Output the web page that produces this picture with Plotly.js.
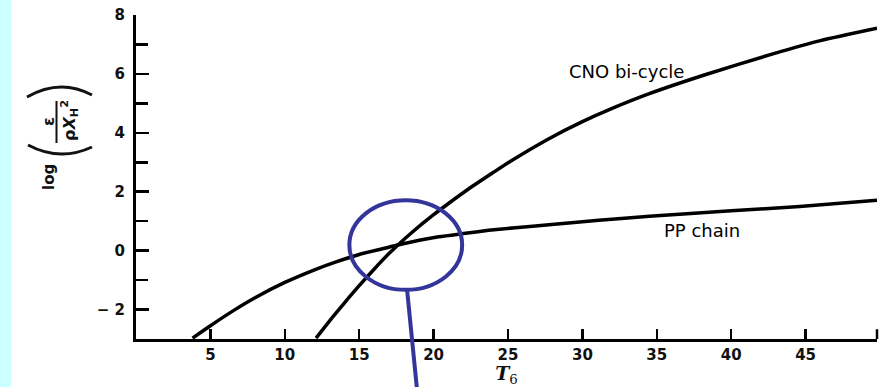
<!DOCTYPE html>
<html>
<head>
<meta charset="utf-8">
<script src="https://cdn.plot.ly/plotly-3.0.1.min.js"></script>
<style>
html,body{margin:0;padding:0;background:#fff;}
#chart{width:892px;height:387px;}
</style>
</head>
<body>
<div id="chart"></div>
<script>
// Temperature T6 (millions of K) and log(eps / rho X_H^2)
var ppT   = [3.8, 5, 6.6, 8, 10, 12, 13.4, 15, 16.7, 17.66, 20.35, 22, 23.7, 25.5, 27.75, 31.1, 34.5, 40, 44.6, 49.8];
var ppLog = [-2.97, -2.55, -2.02, -1.6, -1.08, -0.65, -0.39, -0.13, 0.08, 0.2, 0.47, 0.58, 0.69, 0.78, 0.88, 1.03, 1.17, 1.35, 1.5, 1.71];

var cnoT   = [12.1, 13, 14, 15, 16, 17, 17.66, 18.5, 20, 21, 22.37, 24, 25.06, 27.75, 30, 32, 34.5, 38.3, 42.8, 46, 49.8];
var cnoLog = [-2.97, -2.39, -1.78, -1.19, -0.63, -0.1, 0.22, 0.6, 1.22, 1.6, 2.1, 2.65, 3.0, 3.8, 4.38, 4.83, 5.33, 5.98, 6.68, 7.13, 7.55];

var xTickVals = [5, 10, 15, 20, 25, 30, 35, 40, 45];
var xTickText = ['5', '10', '15', '20', '25', '30', '35', '40', '45'];
var yTickVals = [-2, 0, 2, 4, 6, 8];
var yTickText = ['\u2212 2', '0', '2', '4', '6', '8'];

var tickFont = {family: 'DejaVu Sans, Liberation Sans, sans-serif', size: 15, color: '#111', weight: 'bold'};
var labelFont = {family: 'DejaVu Sans, Liberation Sans, sans-serif', size: 18, color: '#000'};

// pixel -> paper helpers for the decorations
var L = 136, R = 877, T = 15, B = 339;
function px(x) { return (x - L) / (R - L); }
function py(y) { return (B - y) / (B - T); }

var traces = [
  {x: ppT, y: ppLog, mode: 'lines', line: {color: '#000', width: 3.5, shape: 'spline', smoothing: 0.6}, hoverinfo: 'skip', showlegend: false},
  {x: cnoT, y: cnoLog, mode: 'lines', line: {color: '#000', width: 3.5, shape: 'spline', smoothing: 0.6}, hoverinfo: 'skip', showlegend: false}
];

var blue = '#34359a';

function arc(x0, y0, cx, cy, x1, y1) {
  return 'M ' + px(x0) + ' ' + py(y0) + ' Q ' + px(cx) + ' ' + py(cy) + ' ' + px(x1) + ' ' + py(y1);
}

var layout = {
  width: 892, height: 387,
  margin: {l: L, r: 892 - R, t: T, b: 387 - B, pad: 0},
  paper_bgcolor: '#ffffff',
  plot_bgcolor: '#ffffff',
  showlegend: false,
  xaxis: {
    range: [0, 49.8],
    showgrid: false, zeroline: false,
    showline: true, linecolor: '#000', linewidth: 3,
    ticks: 'inside', ticklen: 10, tickwidth: 2.5, tickcolor: '#000',
    tickvals: xTickVals, ticktext: xTickText,
    tickfont: tickFont,
    title: {text: '<i><b>T</b></i><sub>6</sub>', font: {family: 'DejaVu Serif, Liberation Serif, serif', size: 19, color: '#111'}, standoff: 6}
  },
  yaxis: {
    range: [-3, 8],
    showgrid: false, zeroline: false,
    showline: true, linecolor: '#000', linewidth: 3,
    ticks: 'inside', ticklen: 13, tickwidth: 2.5, tickcolor: '#000',
    tickvals: yTickVals, ticktext: yTickText,
    tickfont: tickFont,
    ticklabelstandoff: 5,
    minor: {dtick: 1, tick0: 0, ticks: 'inside', ticklen: 12, tickwidth: 2.5, tickcolor: '#000', showgrid: false}
  },
  annotations: [
    {x: 32.97, y: 6.09, xref: 'x', yref: 'y', text: 'CNO bi-cycle', showarrow: false, font: labelFont},
    {x: 38.06, y: 0.70, xref: 'x', yref: 'y', text: 'PP chain', showarrow: false, font: labelFont},
    {xref: 'paper', yref: 'paper', x: px(49), y: py(177), xanchor: 'center', yanchor: 'middle',
     textangle: -90, showarrow: false, text: 'log',
     font: {family: 'DejaVu Sans, Liberation Sans, sans-serif', size: 15, color: '#111', weight: 'bold'}},
    {xref: 'paper', yref: 'paper', x: px(48), y: py(122), xanchor: 'center', yanchor: 'middle',
     textangle: -90, showarrow: false, text: '\u03b5',
     font: {family: 'DejaVu Sans, Liberation Sans, sans-serif', size: 16, color: '#111', weight: 'bold'}},
    {xref: 'paper', yref: 'paper', x: px(69), y: py(121), xanchor: 'center', yanchor: 'middle',
     textangle: -90, showarrow: false, text: '\u03c1<i>X</i><sub>H</sub><sup>2</sup>',
     font: {family: 'DejaVu Sans, Liberation Sans, sans-serif', size: 16, color: '#111', weight: 'bold'}}
  ],
  shapes: [
    {type: 'rect', xref: 'paper', yref: 'paper', x0: px(0), x1: px(11), y0: py(400), y1: py(-10),
     fillcolor: '#ccffff', line: {width: 0}, layer: 'below'},
    {type: 'path', xref: 'paper', yref: 'paper', path: arc(27, 97, 60, 78, 92, 95), line: {color: '#111', width: 3}},
    {type: 'path', xref: 'paper', yref: 'paper', path: arc(28, 145, 60, 162, 92, 147), line: {color: '#111', width: 3}},
    {type: 'line', xref: 'paper', yref: 'paper', x0: px(56.5), x1: px(56.5), y0: py(101), y1: py(143), line: {color: '#111', width: 2}},
    {type: 'circle', xref: 'x', yref: 'y', x0: 14.34, x1: 21.92, y0: -1.33, y1: 1.71,
     line: {color: blue, width: 4}},
    {type: 'line', xref: 'x', yref: 'paper', x0: 18.22, x1: 18.89, y0: py(290), y1: py(390),
     line: {color: blue, width: 4}},
    {type: 'line', xref: 'paper', yref: 'paper', x0: 1, x1: 1, y0: 0, y1: 0.03,
     line: {color: '#000', width: 2.5}}
  ]
};

Plotly.newPlot('chart', traces, layout, {displayModeBar: false, staticPlot: true});
</script>
</body>
</html>
